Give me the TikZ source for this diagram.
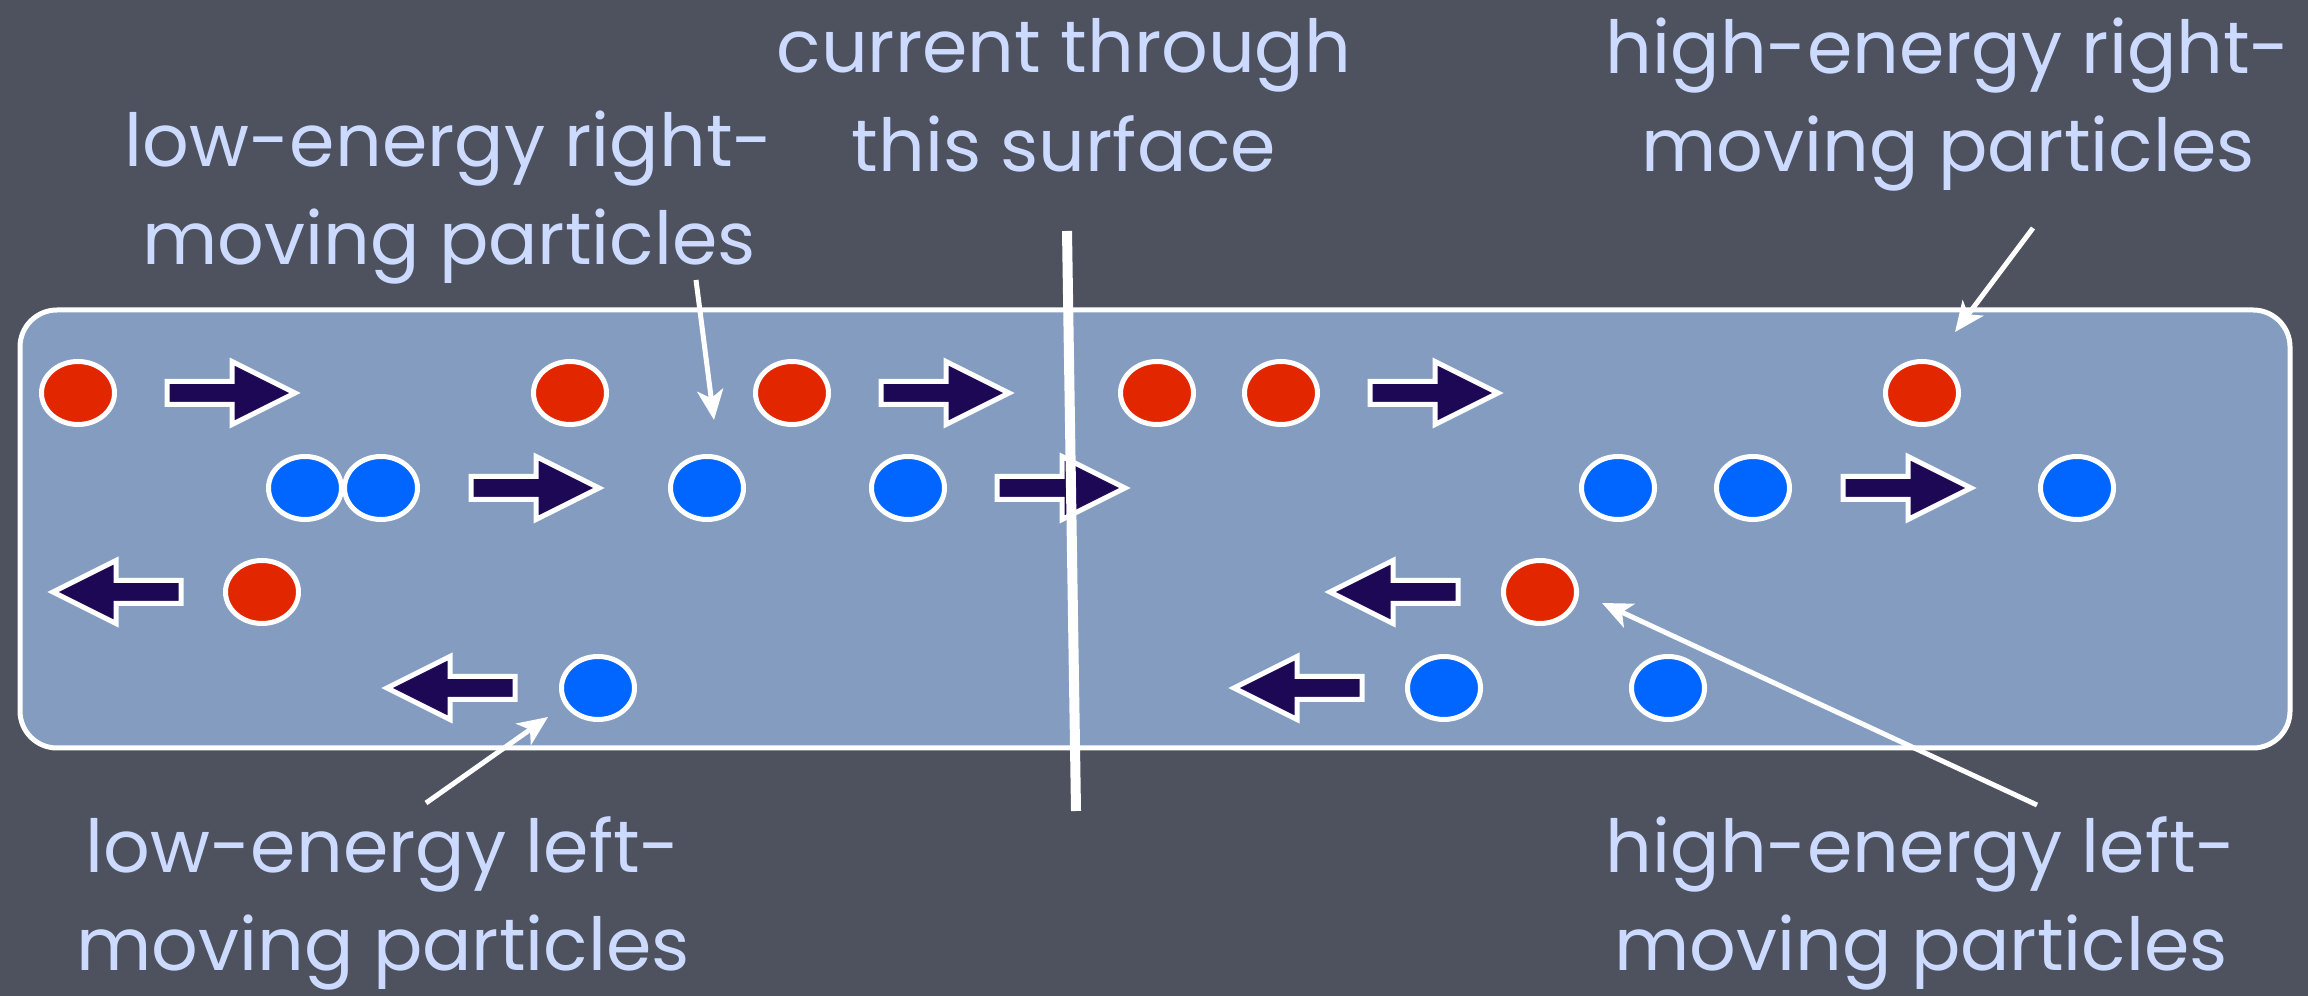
\documentclass[tikz,border=0pt]{standalone}
\usepackage{fontspec}
\setmainfont{Poppins}
\usetikzlibrary{shapes.geometric,arrows.meta,positioning}
\definecolor{board}{RGB}{78,82,95}
\definecolor{panel}{RGB}{131,156,192}
\definecolor{hotred}{RGB}{226,38,0}
\definecolor{coldblue}{RGB}{0,102,255}
\definecolor{navy}{RGB}{28,8,84}
\definecolor{chalktext}{RGB}{205,218,255}
\tikzset{pics/push/.style={code={
\path[flow] (-65,-11.5) -- (0,-11.5) -- (0,-31.5) -- (63,0) -- (0,31.5) -- (0,11.5) -- (-65,11.5) -- cycle;}}}
\begin{document}
\begin{tikzpicture}[x=0.1mm,y=-0.1mm,
fast/.style={
% red particles
ellipse,inner sep=0pt,
minimum width=7.3mm,minimum height=6.3mm,
draw=white,line width=0.5mm,fill=hotred},
slow/.style={
% blue particles
ellipse,inner sep=0pt,
minimum width=7.3mm,minimum height=6.3mm,
draw=white,line width=0.5mm,fill=coldblue},
flow/.style={draw=white,line width=0.5mm,fill=navy,line join=miter},
chalk/.style={text=chalktext,font=\fontsize{20.8}{28}\selectfont,
align=center,anchor=north,inner sep=0pt},
pointer/.style={draw=white,line width=0.5mm,
-{Stealth[length=3mm,width=2.6mm,inset=0.8mm]}}]

\useasboundingbox (0,0) rectangle (2308,996);
\fill[board] (0,0) rectangle (2308,996);

% the wire
\draw[white,line width=0.5mm,fill=panel,rounded corners=3.7mm] (20,310) rectangle (2290,748);

% direction of motion
\pic at (232,393) {push};
\pic at (946,393) {push};
\pic at (1435,393) {push};
\pic at (536,488) {push};
\pic at (1062,488) {push};
\pic at (1908,488) {push};
\pic[xscale=-1] at (116,592) {push};
\pic[xscale=-1] at (1393,592) {push};
\pic[xscale=-1] at (450,688) {push};
\pic[xscale=-1] at (1297,688) {push};

% particles
\node (f1) [fast] at (78,393) {};
\node (f2) [fast] at (570,393) {};
\node (f3) [fast] at (792,393) {};
\node (f4) [fast] at (1157,393) {};
\node (f5) [fast] at (1281,393) {};
\node (f6) [fast] at (1922,393) {};
\node (f7) [fast] at (262,592) {};
\node (f8) [fast] at (1540,592) {};
\node (s1) [slow] at (305,488) {};
\node (s2) [slow] at (381,488) {};
\node (s3) [slow] at (707,488) {};
\node (s4) [slow] at (908,488) {};
\node (s5) [slow] at (1618,488) {};
\node (s6) [slow] at (1753,488) {};
\node (s7) [slow] at (2077,488) {};
\node (s8) [slow] at (598,688) {};
\node (s9) [slow] at (1444,688) {};
\node (s10) [slow] at (1668,688) {};

% the surface
\coordinate (top) at (1067,231);
\coordinate (bot) at (1076,811);
\draw[white,line width=1mm] (top) -- (bot);

% labels
\node (surf) [chalk] at (1064,18) {current through\\this surface};
\node (slowR) [chalk] at (449,110) {low-energy right-\\moving particles};
\node (fastR) [chalk] at (1948,17) {high-energy right-\\moving particles};
\node (slowL) [chalk] at (383,816) {low-energy left-\\moving particles};
\node (fastL) [chalk] at (1921,816) {high-energy left-\\moving particles};

\coordinate (slowRa) at (696,280);
\coordinate (slowRb) at (714,420);
\coordinate (fastRa) at (2033,228);
\coordinate (fastRb) at (1955,332);
\coordinate (slowLa) at (426,803);
\coordinate (slowLb) at (548,717);
\coordinate (fastLa) at (2037,805);
\coordinate (fastLb) at (1602,603);
\draw[pointer] (slowRa) -- (slowRb);
\draw[pointer] (fastRa) -- (fastRb);
\draw[pointer] (slowLa) -- (slowLb);
\draw[pointer] (fastLa) -- (fastLb);
\end{tikzpicture}
\end{document}
